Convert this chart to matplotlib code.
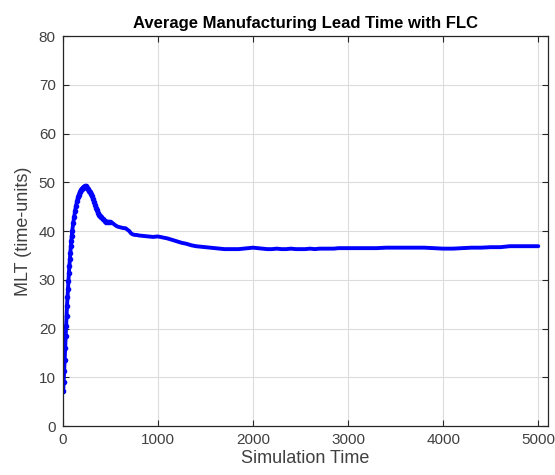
import matplotlib
matplotlib.use("Agg")
import matplotlib.pyplot as plt

title = "Average Manufacturing Lead Time with FLC"
xlabel = "Simulation Time"
ylabel = "MLT (time-units)"
xticks = [0, 1000, 2000, 3000, 4000, 5000]
yticks = [0, 10, 20, 30, 40, 50, 60, 70, 80]

# rise phase (dense sampling)
t_rise = [5, 10, 15, 20, 25, 30, 35, 40, 45, 50, 55, 60, 65, 70, 75, 80, 85, 90, 95,
          100, 110, 120, 130, 140, 150, 160, 170, 180, 190, 200, 210, 220, 230, 240,
          250, 260, 270, 280, 290, 300, 310, 320, 330, 340, 350, 360, 370, 380, 390,
          400, 420, 440, 460, 480, 500]
mlt_rise = [7.2, 9.0, 11.2, 13.5, 16.0, 18.4, 20.6, 22.6, 24.6, 26.4, 28.2, 29.8, 31.4,
            32.9, 34.3, 35.6, 36.9, 38.0, 39.0,
            40.0, 41.6, 42.9, 44.1, 45.2, 46.1, 46.9, 47.5, 48.0, 48.4, 48.7, 48.9, 49.1,
            49.2, 49.2, 49.1, 48.9, 48.6, 48.3, 48.0, 47.6, 47.1, 46.6, 46.0, 45.4, 44.8,
            44.3, 43.8, 43.4, 43.1, 42.8, 42.4, 42.1, 41.9, 41.9, 41.9]

# settling phase
t_settle = [520, 540, 560, 580, 600, 620, 640, 660, 680, 700, 720, 740, 760, 780, 800,
            850, 900, 950, 1000, 1050, 1100, 1150, 1200, 1250, 1300, 1350, 1400, 1450,
            1500, 1550, 1600, 1650, 1700, 1750, 1800, 1850, 1900, 1950, 2000]
mlt_settle = [41.7, 41.4, 41.1, 40.9, 40.8, 40.7, 40.6, 40.6, 40.3, 40.0, 39.5, 39.3,
              39.2, 39.2, 39.1, 39.0, 38.9, 38.8, 38.9, 38.7, 38.5, 38.2, 37.9, 37.6,
              37.4, 37.1, 36.9, 36.8, 36.7, 36.6, 36.5, 36.4, 36.3, 36.3, 36.3, 36.3,
              36.4, 36.5, 36.6]

# steady phase
t_steady = [2050, 2100, 2150, 2200, 2250, 2300, 2350, 2400, 2450, 2500, 2550, 2600, 2650,
            2700, 2750, 2800, 2850, 2900, 2950, 3000, 3100, 3200, 3300, 3400, 3500, 3600,
            3700, 3800, 3900, 4000, 4100, 4200, 4300, 4400, 4500, 4600, 4700, 4800, 4900,
            5000]
mlt_steady = [36.5, 36.4, 36.3, 36.3, 36.4, 36.3, 36.3, 36.4, 36.3, 36.3, 36.3, 36.4,
              36.3, 36.4, 36.4, 36.4, 36.4, 36.5, 36.5, 36.5, 36.5, 36.5, 36.5, 36.6,
              36.6, 36.6, 36.6, 36.6, 36.5, 36.4, 36.4, 36.5, 36.6, 36.6, 36.7, 36.7,
              36.9, 36.9, 36.9, 36.9]

t = t_rise + t_settle + t_steady
mlt = mlt_rise + mlt_settle + mlt_steady

plt.rcParams['font.family'] = ['Liberation Sans', 'DejaVu Sans']
fig = plt.figure(figsize=(5.55, 4.75), dpi=100)
ax = fig.add_axes([0.113, 0.103, 0.874, 0.821])

n_rise = len(t_rise)
ax.plot(t, mlt, color='#0000ff', lw=2.8, solid_capstyle='round', solid_joinstyle='round')
ax.plot(t_rise, mlt_rise, linestyle='none', marker='o', ms=3.0,
        mec='#0000ff', mfc='#0000ff')

ax.set_xlim(0, 5100)
ax.set_ylim(0, 80)
ax.set_xticks(xticks)
ax.set_yticks(yticks)
ax.grid(True, color='#dcdcdc', lw=0.8)
ax.set_axisbelow(True)
edge = '#262626'
for s in ax.spines.values():
    s.set_color(edge)
    s.set_linewidth(0.9)
ax.tick_params(direction='in', top=True, right=True, length=4, width=0.8,
               colors=edge, labelsize=11, labelcolor='#404040', pad=5)
ax.set_title(title, fontsize=12, fontweight='bold', color='#000000', pad=6)
ax.set_xlabel(xlabel, fontsize=13, color='#404040', labelpad=2)
ax.set_ylabel(ylabel, fontsize=13, color='#404040', labelpad=5)

fig.savefig('out.png', dpi=100)
